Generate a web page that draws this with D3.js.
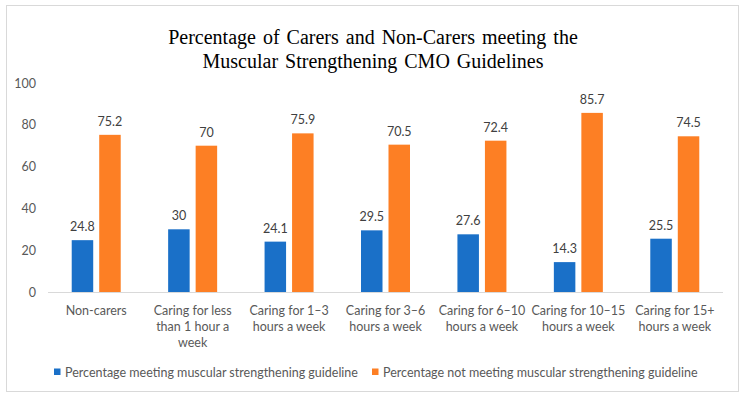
<!DOCTYPE html>
<html>
<head>
<meta charset="utf-8">
<script src="https://cdn.jsdelivr.net/npm/d3@7"></script>
<style>
  body { margin: 0; background: #fff; }
  svg { display: block; }
</style>
</head>
<body>
<svg id="chart" width="746" height="400"></svg>
<script>
const categories = [
  ["Non-carers"],
  ["Caring for less", "than 1 hour a", "week"],
  ["Caring for 1\u20133", "hours a week"],
  ["Caring for 3\u20136", "hours a week"],
  ["Caring for 6\u201310", "hours a week"],
  ["Caring for 10\u201315", "hours a week"],
  ["Caring for 15+", "hours a week"]
];
const meeting = [24.8, 30, 24.1, 29.5, 27.6, 14.3, 25.5];
const notMeeting = [75.2, 70, 75.9, 70.5, 72.4, 85.7, 74.5];
const seriesNames = [
  "Percentage meeting muscular strengthening guideline",
  "Percentage not meeting muscular strengthening guideline"
];
const yTicks = [0, 20, 40, 60, 80, 100];
const titleLines = [
  "Percentage of Carers and Non-Carers meeting the",
  "Muscular Strengthening CMO Guidelines"
];

const colors = ["#1a70c8", "#fd7f24"];
const svg = d3.select("#chart");
const labelFont = "Lato, 'Liberation Sans', sans-serif";

// chart border
svg.append("rect")
  .attr("x", 6.5).attr("y", 5.5)
  .attr("width", 732).attr("height", 386)
  .attr("fill", "#fff")
  .attr("stroke", "#d9d9d9");

svg.selectAll("text.title")
  .data(titleLines)
  .enter()
  .append("text")
  .attr("class", "title")
  .attr("x", 373)
  .attr("y", (d, i) => 44 + i * 24)
  .attr("text-anchor", "middle")
  .attr("font-family", "'Liberation Serif', 'Times New Roman', serif")
  .attr("font-size", "20px")
  .attr("word-spacing", "2px")
  .attr("fill", "#000")
  .text(d => d);

const x = d3.scaleBand()
  .domain(d3.range(categories.length))
  .range([48, 723]);

const y = d3.scaleLinear()
  .domain([0, 100])
  .range([292, 83]);

// y tick labels (no axis line)
svg.selectAll("text.ytick")
  .data(yTicks)
  .enter()
  .append("text")
  .attr("class", "ytick")
  .attr("x", 36)
  .attr("y", d => y(d) + 4.5)
  .attr("text-anchor", "end")
  .attr("font-family", labelFont)
  .attr("font-size", "12.5px")
  .attr("fill", "#595959")
  .text(d => d);

// x axis line
svg.append("line")
  .attr("x1", 48).attr("x2", 723)
  .attr("y1", y(0) + 0.5).attr("y2", y(0) + 0.5)
  .attr("stroke", "#d9d9d9");

const barW = 21.5;
const offsets = [-24.5, 3];
const series = [meeting, notMeeting];

series.forEach((vals, s) => {
  svg.selectAll("rect.s" + s)
    .data(vals)
    .enter()
    .append("rect")
    .attr("class", "s" + s)
    .attr("x", (d, i) => x(i) + x.bandwidth() / 2 + offsets[s])
    .attr("y", d => y(d))
    .attr("width", barW)
    .attr("height", d => y(0) - y(d))
    .attr("fill", colors[s]);

  svg.selectAll("text.v" + s)
    .data(vals)
    .enter()
    .append("text")
    .attr("class", "v" + s)
    .attr("x", (d, i) => x(i) + x.bandwidth() / 2 + offsets[s] + barW / 2)
    .attr("y", d => y(d) - 9)
    .attr("text-anchor", "middle")
    .attr("font-family", labelFont)
    .attr("font-size", "12.5px")
    .attr("fill", "#404040")
    .text(d => d);
});

// category labels
const cat = svg.selectAll("g.cat")
  .data(categories)
  .enter()
  .append("g")
  .attr("class", "cat");

cat.selectAll("text")
  .data((d, i) => d.map((line, j) => ({ line, j, i })))
  .enter()
  .append("text")
  .attr("x", d => x(d.i) + x.bandwidth() / 2)
  .attr("y", d => 314.5 + d.j * 16)
  .attr("text-anchor", "middle")
  .attr("font-family", labelFont)
  .attr("font-size", "12.5px")
  .attr("fill", "#595959")
  .text(d => d.line);

// legend
const legendX = [54, 372];
const legend = svg.selectAll("g.legend")
  .data(seriesNames)
  .enter()
  .append("g")
  .attr("class", "legend")
  .attr("transform", (d, i) => `translate(${legendX[i]},372)`);

legend.append("rect")
  .attr("x", 0).attr("y", -3.5)
  .attr("width", 6.5).attr("height", 6.5)
  .attr("fill", (d, i) => colors[i]);

legend.append("text")
  .attr("x", 11)
  .attr("y", 4.5)
  .attr("font-family", labelFont)
  .attr("font-size", "12.5px")
  .attr("fill", "#595959")
  .text(d => d);
</script>
</body>
</html>
